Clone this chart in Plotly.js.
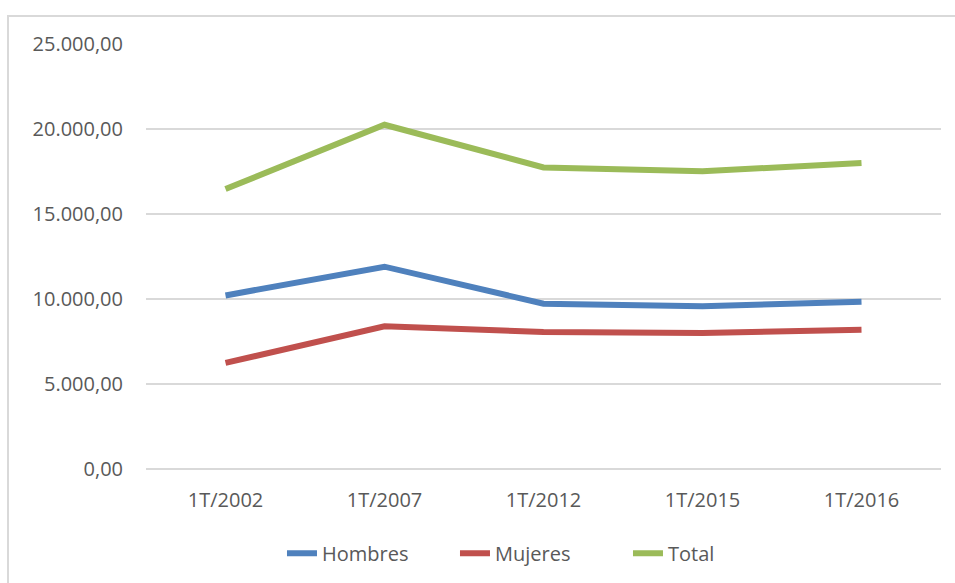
<!DOCTYPE html>
<html>
<head>
<meta charset="utf-8">
<script src="https://cdn.plot.ly/plotly-3.0.1.min.js"></script>
<style>
  html, body { margin: 0; padding: 0; background: #fff; }
  #wrap { position: relative; width: 955px; height: 583px; overflow: hidden; }
  #chart { position: absolute; left: 0; top: 0; width: 955px; height: 583px; }
  #frame { position: absolute; left: 7px; top: 15px; width: 960px; height: 600px;
           border-top: 2px solid #d9d9d9; border-left: 2px solid #d9d9d9; pointer-events: none; }
</style>
</head>
<body>
<div id="wrap">
  <div id="chart"></div>
  <div id="frame"></div>
</div>
<script>
const categories = ["1T/2002", "1T/2007", "1T/2012", "1T/2015", "1T/2016"];
const hombres = [10210, 11900, 9720, 9570, 9840];
const mujeres = [6240, 8390, 8060, 8000, 8190];
const total   = [16470, 20250, 17740, 17510, 18000];
const yTicks  = [0, 5000, 10000, 15000, 20000, 25000];

const fontFam = '"Open Sans", "Noto Sans", sans-serif';
function line(name, y, color) {
  return {
    type: 'scatter', mode: 'lines', name: name, x: categories, y: y,
    line: { color: color, width: 6, shape: 'linear' },
    hoverinfo: 'x+y+name'
  };
}
const data = [
  line('Hombres', hombres, '#4F81BD'),
  line('Mujeres', mujeres, '#C0504D'),
  line('Total', total, '#9BBB59')
];
const layout = {
  width: 955, height: 583,
  margin: { l: 146, r: 14, t: 44, b: 114 },
  paper_bgcolor: '#ffffff', plot_bgcolor: '#ffffff',
  separators: ',.',
  font: { family: fontFam, size: 20, color: '#595959' },
  showlegend: true,
  legend: {
    orientation: 'h', x: 0.567, xanchor: 'center', xref: 'container',
    y: 0.051, yref: 'container', yanchor: 'middle',
    font: { family: fontFam, size: 20, color: '#595959' },
    entrywidth: 128, entrywidthmode: 'pixels',
    itemwidth: 30, tracegroupgap: 0
  },
  xaxis: {
    type: 'category', range: [-0.5, 4.5], showgrid: false, zeroline: false, showline: false,
    ticks: '', ticklabelstandoff: 17,
    tickfont: { family: fontFam, size: 20, color: '#595959' }
  },
  yaxis: {
    range: [0, 25000], tickvals: yTicks, tickformat: ',.2f',
    showgrid: true, gridcolor: '#d9d9d9', gridwidth: 1.3,
    zeroline: true, zerolinecolor: '#d9d9d9', zerolinewidth: 1.3,
    showline: false, ticks: '', ticklabelstandoff: 22,
    tickfont: { family: fontFam, size: 20, color: '#595959' }
  }
};
Plotly.newPlot('chart', data, layout, { displayModeBar: false, staticPlot: true });
</script>
</body>
</html>
